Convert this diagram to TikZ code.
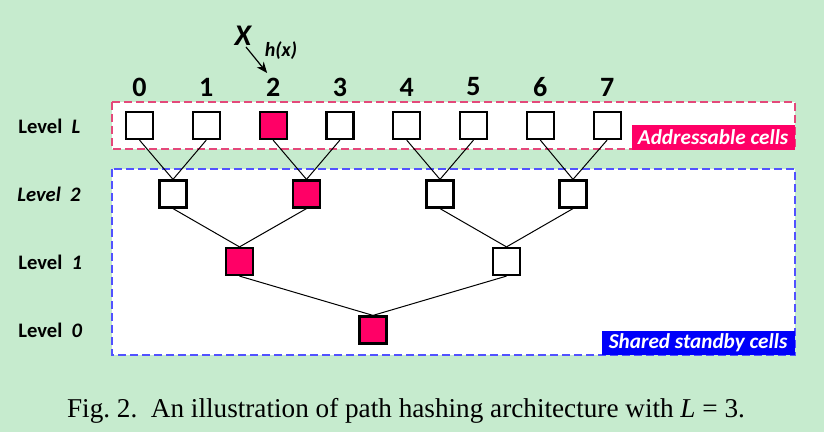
\documentclass[tikz,border=0pt]{standalone}
\usepackage{fontspec}
\setmainfont{Liberation Serif}
\newfontfamily\calibri{Carlito}
\usetikzlibrary{arrows.meta}
\definecolor{bggreen}{RGB}{198,235,206}
\definecolor{hotpink}{RGB}{255,0,102}
\definecolor{dashpink}{RGB}{228,72,122}
\definecolor{dashblue}{RGB}{82,82,255}
\definecolor{tagblue}{RGB}{0,0,250}
\begin{document}
\begin{tikzpicture}[
			     x=0.5pt, y=-0.5pt,
			     cell/.style={draw,line width=1.1pt,fill=white,minimum size=13.5pt,inner sep=0pt},
			     hit/.style={cell,fill=hotpink},
			     lvl/.style={font=\calibri\bfseries\fontsize{10.3}{12}\selectfont,anchor=west,inner sep=0pt},
			     idx/.style={font=\calibri\bfseries\fontsize{14}{16}\selectfont},
			     tag/.style={font=\calibri\bfseries\itshape\fontsize{10.6}{12}\selectfont,text=white,inner sep=0pt,anchor=south east},
			     frame/.style={dash pattern=on 4pt off 2pt,line width=0.6pt,fill=white},
			     link/.style={line width=0.5pt}
			     ]
\useasboundingbox[fill=bggreen] (0,0) rectangle (824,432);
\draw[frame,draw=dashpink] (112,102) rectangle (795,149);
\draw[frame,draw=dashblue] (112,169) rectangle (795,355);
\node[tag,fill=hotpink,minimum width=81.5pt,minimum height=12.5pt] (addr) at (795,150) {Addressable cells};
\node[tag,fill=tagblue,minimum width=96.5pt,minimum height=12pt] (shared) at (795,355) {Shared standby cells};
% level labels
\node[lvl] (lab-L) at (18,126) {Level~~\itshape L};
\node[lvl] (lab-2) at (17,194) {\itshape Level~~2};
\node[lvl] (lab-1) at (18,262) {Level~~\itshape 1};
\node[lvl] (lab-0) at (18,330) {Level~~\itshape 0};
% cells
\foreach \i/\s in {0/cell,1/cell,2/hit,3/cell,4/cell,5/cell,6/cell,7/cell} {
  \node[\s] (top-\i) at ({139.5+66.8*\i},125.5) {};
  \node[idx] (num-\i) at ({139.5+66.8*\i},87) {\i};
}
\foreach \i/\s/\x in {0/cell/173,1/hit/306.5,2/cell/440,3/cell/573}
  \node[\s] (mid-\i) at (\x,194) {};
\node[hit] (low-0) at (239.5,261.5) {};
\node[cell] (low-1) at (506.5,261.5) {};
\node[hit] (root) at (373,330) {};
\foreach \a/\b in {top-0/mid-0,top-1/mid-0,top-2/mid-1,top-3/mid-1,top-4/mid-2,top-5/mid-2,top-6/mid-3,top-7/mid-3,
                   mid-0/low-0,mid-1/low-0,mid-2/low-1,mid-3/low-1,low-0/root,low-1/root}
  \draw[link] (\a.south) -- (\b.north);
% key and hash
\node[font=\calibri\bfseries\itshape\fontsize{15}{16}\selectfont,inner sep=1pt] (key) at (243,36) {X};
\node[font=\calibri\bfseries\itshape\fontsize{10}{12}\selectfont] (hash) at (281,51) {h(x)};
\draw[-{Stealth[length=5.5pt,width=4.5pt]},line width=0.6pt] ([shift={(3,11)}]key.center) -- ([shift={(-6,-14)}]num-2.center);
\node[font=\fontsize{13.6}{15}\selectfont,anchor=base] (caption) at (406,417) {Fig.~2.\ \ An illustration of path hashing architecture with \textit{L}~=~3.};
\end{tikzpicture}
\end{document}
